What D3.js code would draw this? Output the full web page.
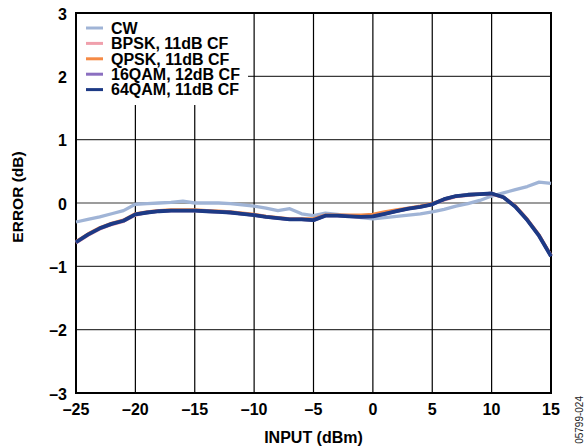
<!DOCTYPE html>
<html>
<head>
<meta charset="utf-8">
<script src="https://cdn.jsdelivr.net/npm/d3@7"></script>
<style>
  body { margin: 0; background: #fff; }
  text { font-family: "Liberation Sans", Arial, sans-serif; }
  .bold { font-weight: bold; }
</style>
</head>
<body>
<svg id="chart" width="587" height="448"></svg>
<script>
// input power (dBm) at each sample
const inputs = [-25,-24,-23,-22,-21,-20,-19,-18,-17,-16,-15,-14,-13,-12,-11,-10,-9,-8,-7,-6,-5,-4,-3,-2,-1,0,1,2,3,4,5,6,7,8,9,10,11,12,13,14,15]

// error (dB) per series
const cw     = [-0.30,-0.26,-0.22,-0.17,-0.12,-0.02,-0.01,0.00,0.01,0.03,0.00,0.00,0.00,-0.01,-0.03,-0.05,-0.08,-0.12,-0.09,-0.17,-0.20,-0.16,-0.18,-0.20,-0.23,-0.25,-0.23,-0.21,-0.19,-0.17,-0.14,-0.10,-0.05,-0.01,0.04,0.11,0.16,0.21,0.26,0.33,0.31]
const bpsk   = [-0.63,-0.51,-0.41,-0.34,-0.29,-0.19,-0.15,-0.13,-0.12,-0.12,-0.12,-0.13,-0.14,-0.15,-0.17,-0.19,-0.22,-0.24,-0.26,-0.26,-0.27,-0.20,-0.20,-0.21,-0.22,-0.21,-0.17,-0.13,-0.09,-0.06,-0.02,0.05,0.10,0.12,0.14,0.14,0.09,-0.05,-0.26,-0.51,-0.83]
const qpsk   = [-0.61,-0.49,-0.39,-0.32,-0.27,-0.17,-0.14,-0.12,-0.11,-0.11,-0.11,-0.12,-0.13,-0.14,-0.16,-0.18,-0.21,-0.23,-0.25,-0.25,-0.25,-0.19,-0.19,-0.19,-0.19,-0.18,-0.14,-0.11,-0.08,-0.05,-0.01,0.06,0.11,0.13,0.14,0.15,0.09,-0.05,-0.26,-0.51,-0.83]
const qam16  = [-0.62,-0.50,-0.40,-0.33,-0.28,-0.18,-0.15,-0.13,-0.12,-0.12,-0.12,-0.13,-0.14,-0.15,-0.17,-0.19,-0.22,-0.24,-0.26,-0.26,-0.27,-0.20,-0.20,-0.21,-0.22,-0.21,-0.17,-0.13,-0.09,-0.06,-0.02,0.06,0.11,0.13,0.14,0.15,0.09,-0.06,-0.27,-0.52,-0.84]
const qam64  = [-0.62,-0.50,-0.40,-0.33,-0.28,-0.18,-0.15,-0.13,-0.12,-0.12,-0.12,-0.13,-0.14,-0.15,-0.17,-0.19,-0.22,-0.24,-0.26,-0.26,-0.27,-0.20,-0.20,-0.21,-0.22,-0.21,-0.17,-0.13,-0.09,-0.06,-0.02,0.06,0.11,0.13,0.14,0.15,0.09,-0.06,-0.27,-0.52,-0.84]

const seriesNames = ["CW", "BPSK, 11dB CF", "QPSK, 11dB CF", "16QAM, 12dB CF", "64QAM, 11dB CF"]
const seriesColors = ["#a0b4d6", "#f0a0ac", "#f58a45", "#8b6fc0", "#1d3a85"]
const seriesValues = [cw, bpsk, qpsk, qam16, qam64]

const xTicks = [-25, -20, -15, -10, -5, 0, 5, 10, 15]
const yTicks = [-3, -2, -1, 0, 1, 2, 3]

const svg = d3.select("#chart")
const margin = { top: 13, right: 36, bottom: 55, left: 76 }
const width = +svg.attr("width") - margin.left - margin.right
const height = +svg.attr("height") - margin.top - margin.bottom

const x = d3.scaleLinear().domain([-25, 15]).range([0, width])
const y = d3.scaleLinear().domain([-3, 3]).range([height, 0])

const fmt = d => d < 0 ? "\u2013" + Math.abs(d) : String(d)

const g = svg.append("g").attr("transform", "translate(" + margin.left + "," + margin.top + ")")

// grid
g.selectAll(".hgrid")
    .data(yTicks.filter(d => d > -3 && d < 3))
    .enter().append("line")
    .attr("x1", 0).attr("x2", width)
    .attr("y1", d => y(d)).attr("y2", d => y(d))
    .attr("stroke", "#3a3a3a").attr("stroke-width", 1.2)

g.selectAll(".vgrid")
    .data(xTicks.filter(d => d > -25 && d < 15))
    .enter().append("line")
    .attr("x1", d => x(d)).attr("x2", d => x(d))
    .attr("y1", 0).attr("y2", height)
    .attr("stroke", "#000").attr("stroke-width", 1.2)

// legend box hides grid behind it
const legend = g.append("g")
legend.append("rect")
    .attr("x", 1).attr("y", 1)
    .attr("width", 171).attr("height", 91)
    .attr("fill", "#fff")

// frame
g.append("rect")
    .attr("width", width).attr("height", height)
    .attr("fill", "none").attr("stroke", "#000").attr("stroke-width", 2)

// curves
const line = d3.line()
    .x((d, i) => x(inputs[i]))
    .y(d => y(d))

seriesValues.forEach((vals, k) => {
    g.append("path")
        .datum(vals)
        .attr("d", line)
        .attr("fill", "none")
        .attr("stroke", seriesColors[k])
        .attr("stroke-width", k == 4 ? 3.8 : 3.3)
        .attr("stroke-linejoin", "round")
})

// legend entries
seriesNames.forEach((name, k) => {
    const ly = 15 + k * 15.4
    legend.append("line")
        .attr("x1", 10).attr("x2", 27)
        .attr("y1", ly).attr("y2", ly)
        .attr("stroke", seriesColors[k]).attr("stroke-width", 3)
    legend.append("text")
        .attr("class", "bold")
        .attr("x", 35).attr("y", ly)
        .attr("dy", "0.36em")
        .style("font-size", "16px")
        .text(name)
})

// tick labels
g.selectAll(".ylab")
    .data(yTicks)
    .enter().append("text")
    .attr("class", "bold")
    .attr("x", -9).attr("y", d => y(d) + 1)
    .attr("dy", "0.36em")
    .style("text-anchor", "end")
    .style("font-size", "16px")
    .text(fmt)

g.selectAll(".xlab")
    .data(xTicks)
    .enter().append("text")
    .attr("class", "bold")
    .attr("x", d => x(d)).attr("y", height + 16)
    .attr("dy", "0.36em")
    .style("text-anchor", "middle")
    .style("font-size", "16px")
    .text(fmt)

// axis titles
svg.append("text")
    .attr("class", "bold")
    .attr("x", margin.left + width / 2).attr("y", 443)
    .style("text-anchor", "middle")
    .style("font-size", "16px")
    .text("INPUT (dBm)")

svg.append("text")
    .attr("class", "bold")
    .attr("transform", "translate(23,197) rotate(-90)")
    .style("text-anchor", "middle")
    .style("font-size", "15.5px")
    .text("ERROR (dB)")

svg.append("text")
    .attr("transform", "translate(583,396) rotate(-90)")
    .style("text-anchor", "end")
    .style("font-size", "10px")
    .attr("fill", "#222")
    .text("05799-024")
</script>
</body>
</html>
